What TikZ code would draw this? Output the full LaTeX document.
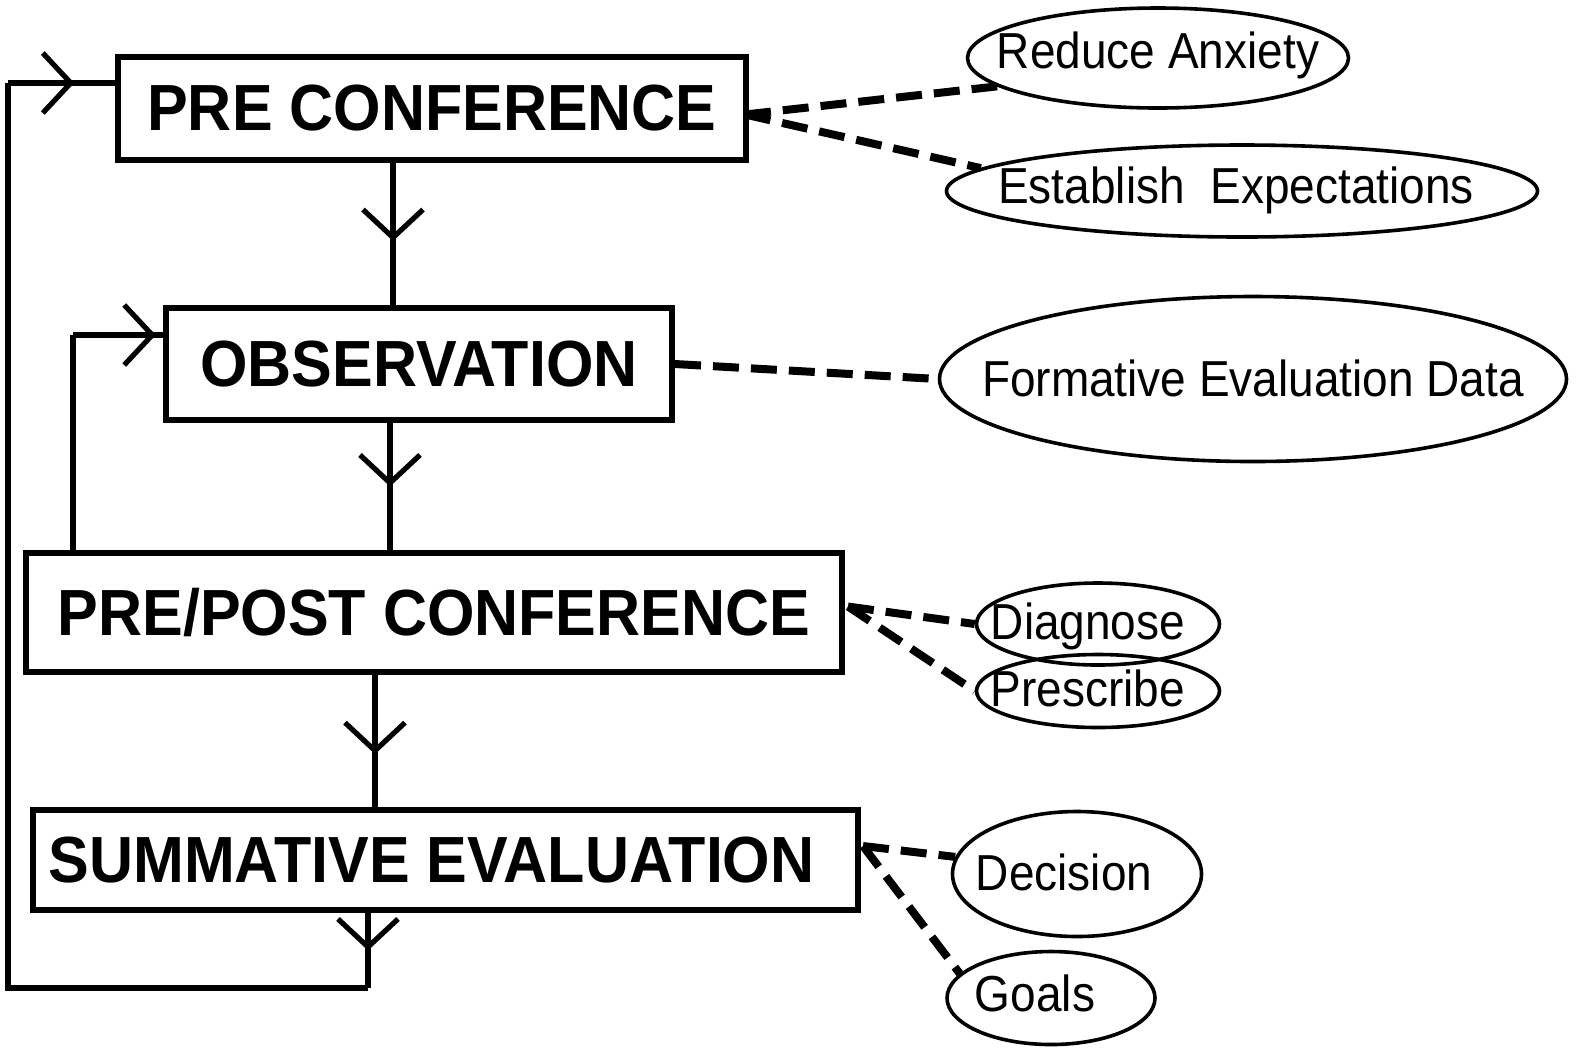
\documentclass[tikz,border=0pt]{standalone}
\usepackage{fontspec}
\setmainfont{Liberation Sans}
\usetikzlibrary{arrows.meta,decorations.markings,calc,shapes.geometric}
\begin{document}
\begin{tikzpicture}[x=0.5pt,y=-0.5pt,
  stagebox/.style={draw,line width=3pt,inner sep=0pt,font=\fontsize{30.5}{36}\selectfont\bfseries},
  oval/.style={draw,ellipse,line width=1.8pt,inner sep=0pt},
  ovaltext/.style={inner sep=0pt,font=\fontsize{23}{28}\selectfont},
  flow/.style={line width=2.6pt},
  dashlink/.style={line width=4pt,dash pattern=on 13pt off 6pt},
  midarr/.style={postaction={decorate},decoration={markings,mark=at position #1 with {\arrow{Straight Barb[length=14pt,width=30pt,line width=2.6pt]}}}}
]
\useasboundingbox (0,0) rectangle (1577,1057);
% stage boxes
\node[stagebox,minimum width=314pt,minimum height=51.5pt] (pre) at (432,108.5) {\scalebox{1}[1.07]{PRE CONFERENCE}};
\node[stagebox,minimum width=253pt,minimum height=56pt] (obs) at (419,364) {\scalebox{1}[1.07]{OBSERVATION}};
\node[stagebox,minimum width=408pt,minimum height=59.5pt] (pp) at (434,612.5) {\scalebox{1}[1.07]{PRE/POST CONFERENCE}};
\node[stagebox,minimum width=412.5pt,minimum height=50pt] (sm) at (445.5,860) {\hspace*{-14pt}\scalebox{1}[1.07]{SUMMATIVE EVALUATION}};
% ovals
\node[oval,minimum width=190.5pt,minimum height=50pt] (ra) at (1158,58) {};
\node[oval,minimum width=295.5pt,minimum height=46pt] (ee) at (1242,191) {};
\node[oval,minimum width=313.5pt,minimum height=82.5pt] (fe) at (1253,379) {};
\node[oval,minimum width=121.5pt,minimum height=41pt] (dg) at (1098,624) {};
\node[oval,minimum width=121.5pt,minimum height=36.5pt] (pr) at (1098,691) {};
\node[oval,minimum width=124.5pt,minimum height=62.5pt] (dc) at (1077,874) {};
\node[oval,minimum width=104pt,minimum height=46.5pt] (go) at (1051,998) {};
\node[ovaltext] (rat) at (1158,55) {\scalebox{1}[1.1]{Reduce Anxiety}};
\node[ovaltext] (eet) at (1236,190) {\scalebox{1}[1.1]{Establish\ \ Expectations}};
\node[ovaltext] (fet) at (1253,378) {\scalebox{1}[1.1]{Formative Evaluation Data}};
\node[ovaltext] (dgt) at (1088,626) {\scalebox{1}[1.1]{Diagnose}};
\node[ovaltext] (prt) at (1088,688) {\scalebox{1}[1.1]{Prescribe}};
\node[ovaltext] (dct) at (1064,872) {\scalebox{1}[1.1]{Decision}};
\node[ovaltext] (got) at (1035,993) {\scalebox{1}[1.1]{Goals}};
% loop corners
\coordinate (l1) at (368,988);
\coordinate (l2) at (8,988);
\coordinate (l3) at (8,83);
\coordinate (i1) at (73,553);
\coordinate (i2) at (73,335);
% flow lines
\draw[flow,midarr=0.55] (pre.south -| 393,0) -- (obs.north -| 393,0);
\draw[flow,midarr=0.5] (obs.south -| 390,0) -- (pp.north -| 390,0);
\draw[flow,midarr=0.6] (pp.south -| 375,0) -- (sm.north -| 375,0);
\draw[flow,midarr=0.5] (sm.south -| l1) -- (l1);
\draw[flow] (l1) -- (l2) -- (l3);
\draw[flow,midarr=0.62] (l3) -- (pre.west |- l3);
\draw[flow] (i1) -- (i2);
\draw[flow,midarr=0.92] (i2) -- (obs.west |- i2);
% dashed links
\coordinate (preR) at ($(pre.east)+(-4,6)$);
\draw[dashlink] (preR) -- (ra.190);
\draw[dashlink] (preR) -- (ee.175);
\draw[dashlink] (obs.east) -- (fe.west);
\coordinate (ppR) at ($(pp.east)+(3,-6)$);
\draw[dashlink] (ppR) -- (dg.west);
\draw[dashlink] (ppR) -- (pr.west);
\coordinate (smR) at ($(sm.east)+(2,-14)$);
\draw[dashlink] (smR) -- (dc.172);
\draw[dashlink] (smR) -- (go.165);
\end{tikzpicture}
\end{document}
